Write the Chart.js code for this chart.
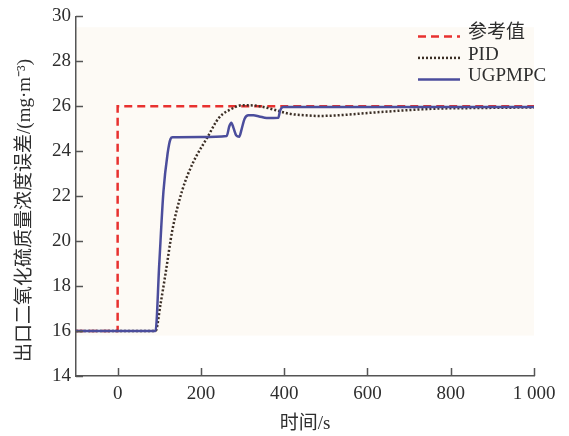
<!DOCTYPE html>
<html>
<head>
<meta charset="utf-8">
<script src="https://cdn.jsdelivr.net/npm/chart.js@4.4.1/dist/chart.umd.min.js"></script>
<style>
html, body { margin: 0; padding: 0; background: #fff; }
</style>
</head>
<body>
<canvas id="chart" width="569" height="436"></canvas>
<script>
// time axis (s) and tick labels
const xTicks = [0, 200, 400, 600, 800, 1000]
const xTickLabels = ['0', '200', '400', '600', '800', '1 000']
const yTicks = [14, 16, 18, 20, 22, 24, 26, 28, 30]

// reference set point
const refT = [-100, 0, 0, 1000]
const refV = [16, 16, 26, 26]

// PID response
const pidT = [-100, 0, 91, 103, 115, 131, 155, 180, 215, 244, 272, 300, 324, 350, 372, 412, 450, 484, 530, 613, 700, 773, 850, 1000]
const pidV = [16, 16, 16, 17.2, 18.55, 20.45, 22.25, 23.45, 24.6, 25.5, 25.87, 26.05, 26.04, 25.97, 25.87, 25.67, 25.6, 25.57, 25.6, 25.72, 25.83, 25.9, 25.92, 25.95]

// UGPMPC response
const mpcT = [-100, 0, 91, 100, 110, 120, 127, 132, 200, 262, 268, 273, 278, 285, 292, 298, 305, 314, 326, 340, 358, 386, 390, 396, 400, 600, 1000]
const mpcV = [16, 16, 16, 19.0, 22.2, 23.9, 24.55, 24.62, 24.63, 24.68, 25.1, 25.27, 25.05, 24.7, 24.65, 25.0, 25.45, 25.6, 25.6, 25.55, 25.48, 25.49, 25.8, 25.96, 25.97, 25.97, 25.97]

const labels = ['参考值', 'PID', 'UGPMPC']

const serif = "'Liberation Serif', 'Times New Roman', 'Noto Sans CJK SC', serif"
const axisColor = '#555'
const textColor = '#2e2e2e'

const pts = (t, v) => t.map((x, i) => ({ x: x, y: v[i] }))

const backdrop = {
    id: 'backdrop',
    beforeDraw(chart) {
        const { ctx, scales: { x, y } } = chart
        const l = x.getPixelForValue(-100), r = x.getPixelForValue(1000)
        const t = y.getPixelForValue(29.52), b = y.getPixelForValue(15.8)
        ctx.save()
        ctx.fillStyle = '#fdfaf5'
        ctx.fillRect(l, t, r - l, b - t)
        ctx.restore()
    }
}

// inward tick marks
const innerTicks = {
    id: 'innerTicks',
    afterDraw(chart) {
        const { ctx, scales: { x, y }, chartArea } = chart
        ctx.save()
        ctx.strokeStyle = axisColor
        ctx.lineWidth = 1.5
        ctx.beginPath()
        xTicks.forEach(v => {
            const px = Math.round(x.getPixelForValue(v)) + 0.5
            ctx.moveTo(px, chartArea.bottom)
            ctx.lineTo(px, chartArea.bottom - 8)
        })
        yTicks.forEach(v => {
            const py = Math.round(y.getPixelForValue(v)) + 0.5
            ctx.moveTo(chartArea.left, py)
            ctx.lineTo(chartArea.left + 7, py)
        })
        ctx.stroke()
        ctx.restore()
    }
}

// legend inside the plot, top right
const innerLegend = {
    id: 'innerLegend',
    afterDraw(chart) {
        const { ctx, chartArea } = chart
        const x0 = chartArea.right - 116, x1 = chartArea.right - 74
        ctx.save()
        chart.data.datasets.forEach((ds, i) => {
            const ly = chartArea.top + 20 + i * 21.5
            ctx.strokeStyle = ds.borderColor
            ctx.lineWidth = ds.borderWidth
            ctx.setLineDash(ds.borderDash || [])
            ctx.beginPath()
            ctx.moveTo(x0, ly)
            ctx.lineTo(x1, ly)
            ctx.stroke()
            ctx.setLineDash([])
            ctx.fillStyle = textColor
            ctx.font = '19px ' + serif
            ctx.textBaseline = 'middle'
            ctx.fillText(ds.label, x1 + 8, ly - 3)
        })
        ctx.restore()
    }
}

const chart = new Chart(document.getElementById('chart').getContext('2d'), {
    type: 'line',
    data: {
        datasets: [{
            label: labels[0],
            data: pts(refT, refV),
            borderColor: '#e8312f',
            borderWidth: 2.5,
            borderDash: [8, 5],
            tension: 0,
            order: 3,
        }, {
            label: labels[1],
            data: pts(pidT, pidV),
            borderColor: '#3b2e25',
            borderWidth: 2.5,
            borderDash: [2, 2],
            cubicInterpolationMode: 'monotone',
            order: 2,
        }, {
            label: labels[2],
            data: pts(mpcT, mpcV),
            borderColor: '#4b4d9c',
            borderWidth: 2.5,
            cubicInterpolationMode: 'monotone',
            order: 1,
        }]
    },
    options: {
        responsive: false,
        animation: false,
        layout: { padding: { top: 15, right: 35, left: 0, bottom: 0 } },
        elements: { point: { radius: 0 } },
        plugins: {
            legend: { display: false },
            tooltip: { enabled: false },
        },
        scales: {
            x: {
                type: 'linear',
                min: -100,
                max: 1000,
                afterBuildTicks: s => { s.ticks = xTicks.map(v => ({ value: v })) },
                afterFit: s => { s.height = 60 },
                grid: { display: false, drawTicks: false },
                border: { color: axisColor, width: 1.5 },
                ticks: {
                    autoSkip: false,
                    maxRotation: 0,
                    padding: 7,
                    color: textColor,
                    font: { family: serif, size: 19 },
                    callback: (v, i) => xTickLabels[i],
                },
                title: {
                    display: true,
                    text: '时间/s',
                    color: textColor,
                    font: { family: serif, size: 19 },
                    padding: { top: 0, bottom: 1 },
                },
            },
            y: {
                min: 14,
                max: 30,
                afterBuildTicks: s => { s.ticks = yTicks.map(v => ({ value: v })) },
                afterFit: s => { s.width = 76 },
                grid: { display: false, drawTicks: false },
                border: { color: axisColor, width: 1.5 },
                ticks: {
                    padding: 5,
                    color: textColor,
                    font: { family: serif, size: 19 },
                },
                title: {
                    display: true,
                    text: '出口二氧化硫质量浓度误差/(mg·m⁻³)\u2003\u2002',
                    color: textColor,
                    font: { family: serif, size: 19 },
                    padding: { top: 14, bottom: 0 },
                },
            }
        }
    },
    plugins: [backdrop, innerTicks, innerLegend]
})
</script>
</body>
</html>
